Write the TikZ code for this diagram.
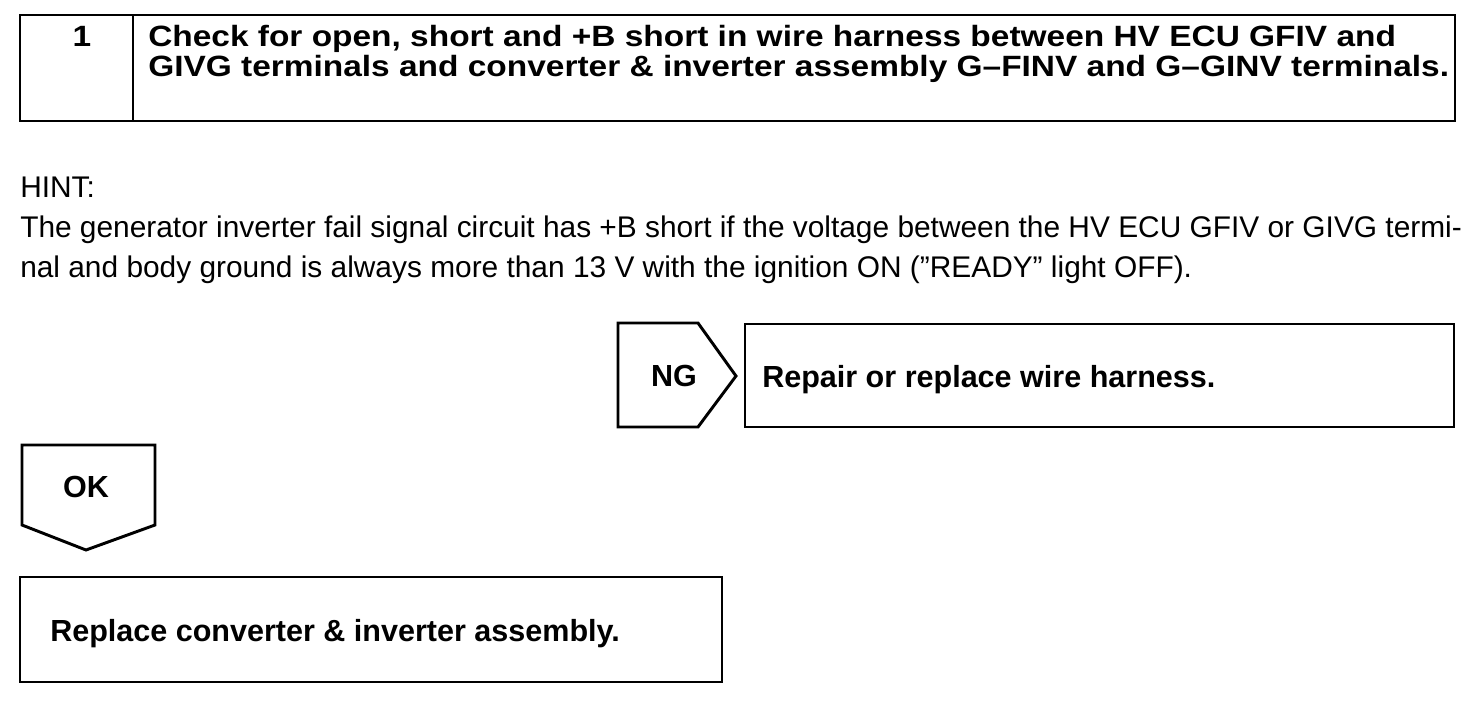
\documentclass[tikz,border=0pt]{standalone}
\usepackage{fontspec}
\setmainfont{Liberation Sans}
\newfontfamily\titlefont{Liberation Sans}[FakeStretch=1.14, Ligatures=TeX]
\begin{document}
\begin{tikzpicture}[x=0.75pt,y=-0.75pt,
  frame/.style={draw=black, line width=2.2pt, line join=miter},
  titletext/.style={font=\titlefont\fontsize{22}{26}\selectfont\bfseries, inner sep=0pt, anchor=base west},
  bodytext/.style={font=\fontsize{22.4}{30}\selectfont, inner sep=0pt, anchor=base west},
  boldtext/.style={font=\fontsize{22.9}{24}\selectfont\bfseries, inner sep=0pt}]
\useasboundingbox (0,0) rectangle (1472,704);
% title box
\coordinate (tl) at (20,15);
\coordinate (br) at (1455,121);
\coordinate (dtop) at (133,15);
\coordinate (dbot) at (133,121);
\draw[frame] (tl) rectangle (br);
\draw[frame] (dtop) -- (dbot);
\node[titletext, anchor=base] (num) at (82,46) {1};
\node[titletext] (title1) at (148,46)
  {Check for open, short and +B short in wire harness between HV ECU GFIV and};
\node[titletext] (title2) at (148,76)
  {GIVG terminals and converter \& inverter assembly G–FINV and G–GINV terminals.};
% hint
\node[bodytext] (hint) at (20,197) {HINT:};
\node[bodytext] (hint1) at (20,237)
  {The generator inverter fail signal circuit has +B short if the voltage between the HV ECU GFIV or GIVG termi-};
\node[bodytext] (hint2) at (20,277)
  {nal and body ground is always more than 13 V with the ignition ON (”READY” light OFF).};
% NG
\draw[frame] (618,323) -- (698,323) -- (736,376) -- (698,427) -- (618,427) -- cycle;
\node[boldtext] (ng) at (674,376) {NG};
\draw[frame] (745,324) rectangle (1454,427);
\node[boldtext, anchor=base west] (repair) at (762,387) {Repair or replace wire harness.};
% OK
\draw[frame] (22,445) -- (155,445) -- (155,525) -- (86,550) -- (22,525) -- cycle;
\node[boldtext] (ok) at (86,487) {OK};
\draw[frame] (20,577) rectangle (722,682);
\node[boldtext, anchor=base west] (replace) at (50,641) {Replace converter \& inverter assembly.};
\end{tikzpicture}
\end{document}
